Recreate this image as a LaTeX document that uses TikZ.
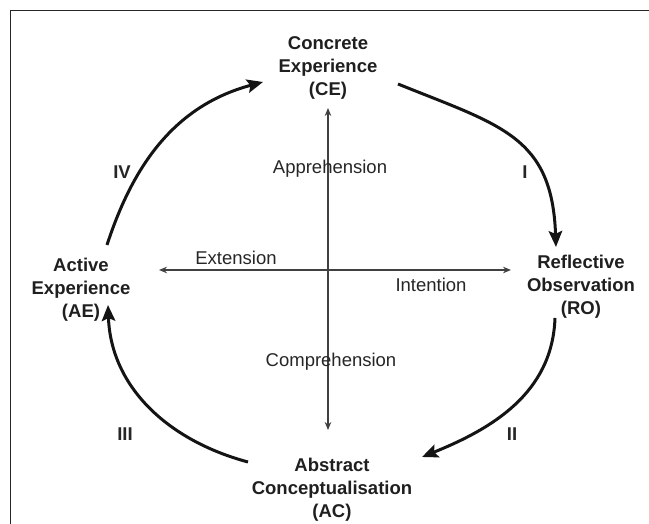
\documentclass[tikz,border=0pt]{standalone}
\usepackage{fontspec}
\setmainfont{Liberation Sans}
\usetikzlibrary{arrows.meta}
\begin{document}
\begin{tikzpicture}[x=1pt,y=1pt,
  stage/.style={font=\fontsize{18.5}{23}\selectfont\bfseries, align=center, text=black!88, inner sep=0pt},
  axislabel/.style={font=\fontsize{18.5}{22}\selectfont, text=black!85, inner sep=0pt, anchor=base},
  numeral/.style={font=\fontsize{18.5}{22}\selectfont\bfseries, text=black!85, inner sep=0pt, anchor=base},
  cyclearrow/.style={line width=3pt, black!92, -{Stealth[length=16pt,width=13.5pt,inset=3pt]}},
  axisarrow/.style={line width=1.4pt, black!75, {Stealth[length=8pt,width=6.5pt]}-{Stealth[length=8pt,width=6.5pt]}},
  frameline/.style={line width=1pt, black!85}]
\useasboundingbox (0,0) rectangle (649,524);

% frame (top and left edges)
\coordinate (fBL) at (10,0);
\coordinate (fTL) at (10,513);
\coordinate (fTR) at (649,513);
\draw[frameline] (fBL) -- (fTL) -- (fTR);

% stage labels
\node[stage] (CE) at (328,456) {Concrete\\Experience\\(CE)};
\node[stage] (RO) at (581,237) {Reflective\\Observation\\(RO)};
\node[stage] (AC) at (332,34) {Abstract\\Conceptualisation\\(AC)};
\node[stage] (AE) at (81,234) {Active\\Experience\\(AE)};

% numerals
\node[numeral] (nI) at (525,345) {I};
\node[numeral] (nII) at (512,83) {II};
\node[numeral] (nIII) at (125,83) {III};
\node[numeral] (nIV) at (122,345) {IV};

% axes
\coordinate (vTop) at (328,416);
\coordinate (vBot) at (328,94);
\coordinate (hLeft) at (159,254);
\coordinate (hRight) at (511,254);
\draw[axisarrow] (vBot) -- (vTop);
\draw[axisarrow] (hLeft) -- (hRight);

% axis labels
\node[axislabel] (appr) at (330,350) {Apprehension};
\node[axislabel] (ext) at (236,259) {Extension};
\node[axislabel] (inten) at (431,232) {Intention};
\node[axislabel] (comp) at (331,157) {Comprehension};

% cycle arcs
\coordinate (a1s) at (398,440);
\coordinate (a1e) at (556,277);
\coordinate (a2s) at (555,206);
\coordinate (a2e) at (422,67);
\coordinate (a3s) at (248,62);
\coordinate (a3e) at (108,219);
\coordinate (a4s) at (107,279);
\coordinate (a4e) at (263,442);
\draw[cyclearrow] (a1s) to[out=-22,in=92,looseness=1.25] (a1e);
\draw[cyclearrow] (a2s) to[out=-92,in=22] (a2e);
\draw[cyclearrow] (a3s) to[out=165,in=-88] (a3e);
\draw[cyclearrow] (a4s) to[out=72,in=195] (a4e);
\end{tikzpicture}
\end{document}
